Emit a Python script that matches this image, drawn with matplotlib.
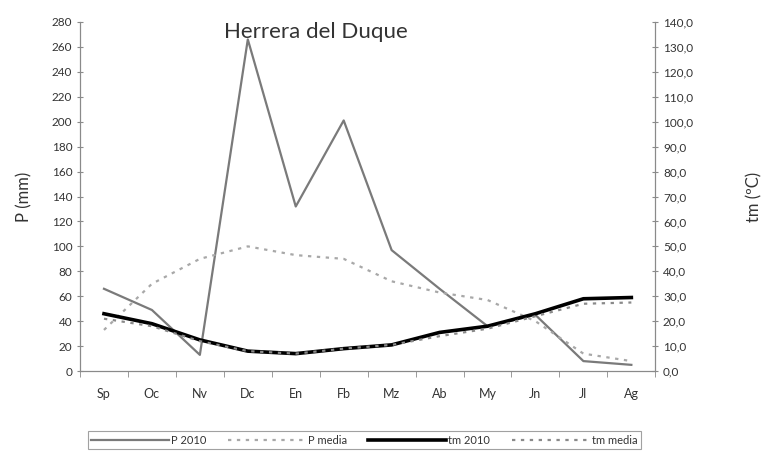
import numpy as np
import matplotlib.pyplot as plt
from matplotlib.ticker import FuncFormatter, MultipleLocator

months = ['Sp', 'Oc', 'Nv', 'Dc', 'En', 'Fb', 'Mz', 'Ab', 'My', 'Jn', 'Jl', 'Ag']
p_2010 = [66, 49, 13, 266, 132, 201, 97, 66, 36, 45, 8, 5]
p_media = [33, 70, 90, 100, 93, 90, 72, 63, 57, 40, 14, 8]
tm_2010 = [23, 19, 12.5, 8, 7, 9, 10.5, 15.5, 18, 23, 29, 29.5]
tm_media = [21, 18, 12, 8, 7, 9, 10.5, 14, 17, 22, 27, 27.5]

plt.rcParams['font.family'] = ['Lato', 'DejaVu Sans']
txt = '#333333'
grey = '#8a8a8a'

fig = plt.figure(figsize=(7.62, 4.57), dpi=100)
ax = fig.add_axes([0.105, 0.188, 0.755, 0.764])
ax2 = ax.twinx()

x = np.arange(len(months))
l1, = ax.plot(x, p_2010, color='#7a7a7a', lw=1.6, label='P 2010')
l2, = ax.plot(x, p_media, color='#a8a8a8', lw=1.6, ls=(0, (1.5, 2.5)), label='P media')
l3, = ax2.plot(x, tm_2010, color='black', lw=2.6, label='tm 2010')
l4, = ax2.plot(x, tm_media, color='#8a8a8a', lw=1.6, ls=(0, (1.5, 2.5)), label='tm media')

ax.set_xlim(-0.5, len(months) - 0.5)
ax.set_ylim(0, 280)
ax2.set_ylim(0, 140)
ax.yaxis.set_major_locator(MultipleLocator(20))
ax2.yaxis.set_major_locator(MultipleLocator(10))
ax2.yaxis.set_major_formatter(FuncFormatter(lambda v, p: f'{v:.1f}'.replace('.', ',')))

ax.set_xticks(x)
ax.set_xticklabels(months)
ax.set_xticks(np.arange(-0.5, len(months), 1), minor=True)
ax.tick_params(axis='x', which='major', length=0, pad=12, labelsize=9, colors=txt)
ax.tick_params(axis='x', which='minor', length=4, direction='out', color=grey)
ax.tick_params(axis='y', length=4, direction='inout', color=grey, labelsize=8.5, labelcolor=txt)
ax2.tick_params(axis='y', length=4, direction='inout', color=grey, labelsize=8.5, labelcolor=txt)

for a in (ax, ax2):
    a.spines['top'].set_visible(False)
    for s in ('left', 'right', 'bottom'):
        a.spines[s].set_color(grey)
        a.spines[s].set_linewidth(0.8)

ax.set_ylabel('P (mm)', fontsize=12, color=txt, labelpad=14)
ax2.set_ylabel('tm (ºC)', fontsize=12, color=txt, labelpad=38)
ax.text(0.41, 0.97, 'Herrera del Duque', transform=ax.transAxes, ha='center',
        va='center', fontsize=16, color=txt)

leg = fig.legend(handles=[l1, l2, l3, l4], loc='lower left',
                 bbox_to_anchor=(0.108, 0.005, 0.74, 0.06), mode='expand',
                 ncol=4, fontsize=8, frameon=True, fancybox=False,
                 handlelength=7, borderpad=0.3, handletextpad=0.2)
leg.get_frame().set_edgecolor(grey)
leg.get_frame().set_linewidth(0.8)
for t in leg.get_texts():
    t.set_color(txt)

fig.savefig('out.png', dpi=100)
